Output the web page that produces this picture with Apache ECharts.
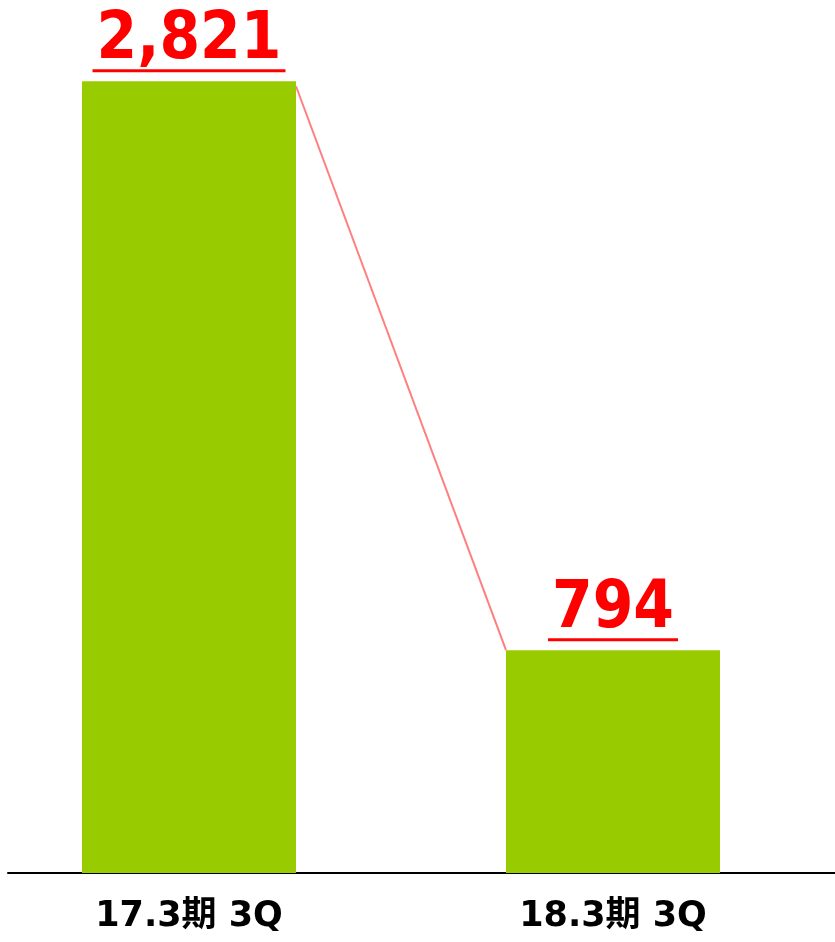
<!DOCTYPE html>
<html>
<head>
<meta charset="utf-8">
<script src="https://cdn.jsdelivr.net/npm/echarts@6/dist/echarts.min.js"></script>
<style>
  html, body { margin: 0; padding: 0; background: #fff; }
  #main { width: 835px; height: 942px; }
</style>
</head>
<body>
<div id="main"></div>
<script>
var categories = ['17.3期 3Q', '18.3期 3Q'];
var values = [2821, 794];
var valueLabels = ['2,821', '794'];

var myChart = echarts.init(document.getElementById('main'));

var BAR_W = 214;

myChart.setOption({
  animation: false,
  grid: [
    { left: -23, right: 10, top: 31, bottom: 69, outerBoundsMode: 'none', containLabel: false },
    // only used for the baseline that runs across the page
    { left: 8, right: 0, top: 31, bottom: 69, outerBoundsMode: 'none', containLabel: false }
  ],
  xAxis: [{
    type: 'category',
    data: categories,
    gridIndex: 0,
    axisLine: { show: false },
    axisTick: { show: false },
    axisLabel: {
      margin: 26,
      fontSize: 35,
      fontWeight: 'bold',
      color: '#000',
      fontFamily: '"DejaVu Sans", "Noto Sans CJK JP", sans-serif'
    }
  }, {
    type: 'value',
    gridIndex: 1,
    min: 0, max: 1,
    axisLine: { show: true, lineStyle: { color: '#000', width: 2 } },
    axisTick: { show: false },
    axisLabel: { show: false },
    splitLine: { show: false }
  }],
  yAxis: [{
    type: 'value',
    gridIndex: 0,
    min: 0, max: 3000,
    show: false
  }, {
    type: 'value',
    gridIndex: 1,
    min: 0, max: 1,
    axisLine: { show: false },
    axisTick: { show: false },
    axisLabel: { show: false },
    splitLine: { show: false }
  }],
  series: [{
    type: 'bar',
    data: values,
    barWidth: BAR_W,
    itemStyle: { color: '#99CC00' },
    label: {
      show: true,
      position: 'top',
      distance: 9,
      formatter: function (p) {
        var t = valueLabels[p.dataIndex];
        return '{v|' + t + '}\n{u|' + t + '}';
      },
      rich: {
        v: {
          fontSize: 65,
          fontWeight: 'bold',
          color: '#FF0000',
          lineHeight: 57,
          fontFamily: '"DejaVu Sans Condensed", "DejaVu Sans", sans-serif'
        },
        u: {
          fontSize: 65,
          fontWeight: 'bold',
          color: 'transparent',
          height: 3,
          lineHeight: 3,
          padding: [0, 4],
          backgroundColor: '#FF0000',
          fontFamily: '"DejaVu Sans Condensed", "DejaVu Sans", sans-serif'
        }
      }
    }
  }, {
    // connector between the two bar tops
    type: 'custom',
    data: [[0, values[0], 1, values[1]]],
    z: 1,
    renderItem: function (params, api) {
      var p1 = api.coord([api.value(0), api.value(1)]);
      var p2 = api.coord([api.value(2), api.value(3)]);
      return {
        type: 'line',
        shape: {
          x1: p1[0] + BAR_W / 2, y1: p1[1] + 5,
          x2: p2[0] - BAR_W / 2, y2: p2[1]
        },
        style: { stroke: '#FF7F7F', lineWidth: 2 }
      };
    }
  }]
});
</script>
</body>
</html>
